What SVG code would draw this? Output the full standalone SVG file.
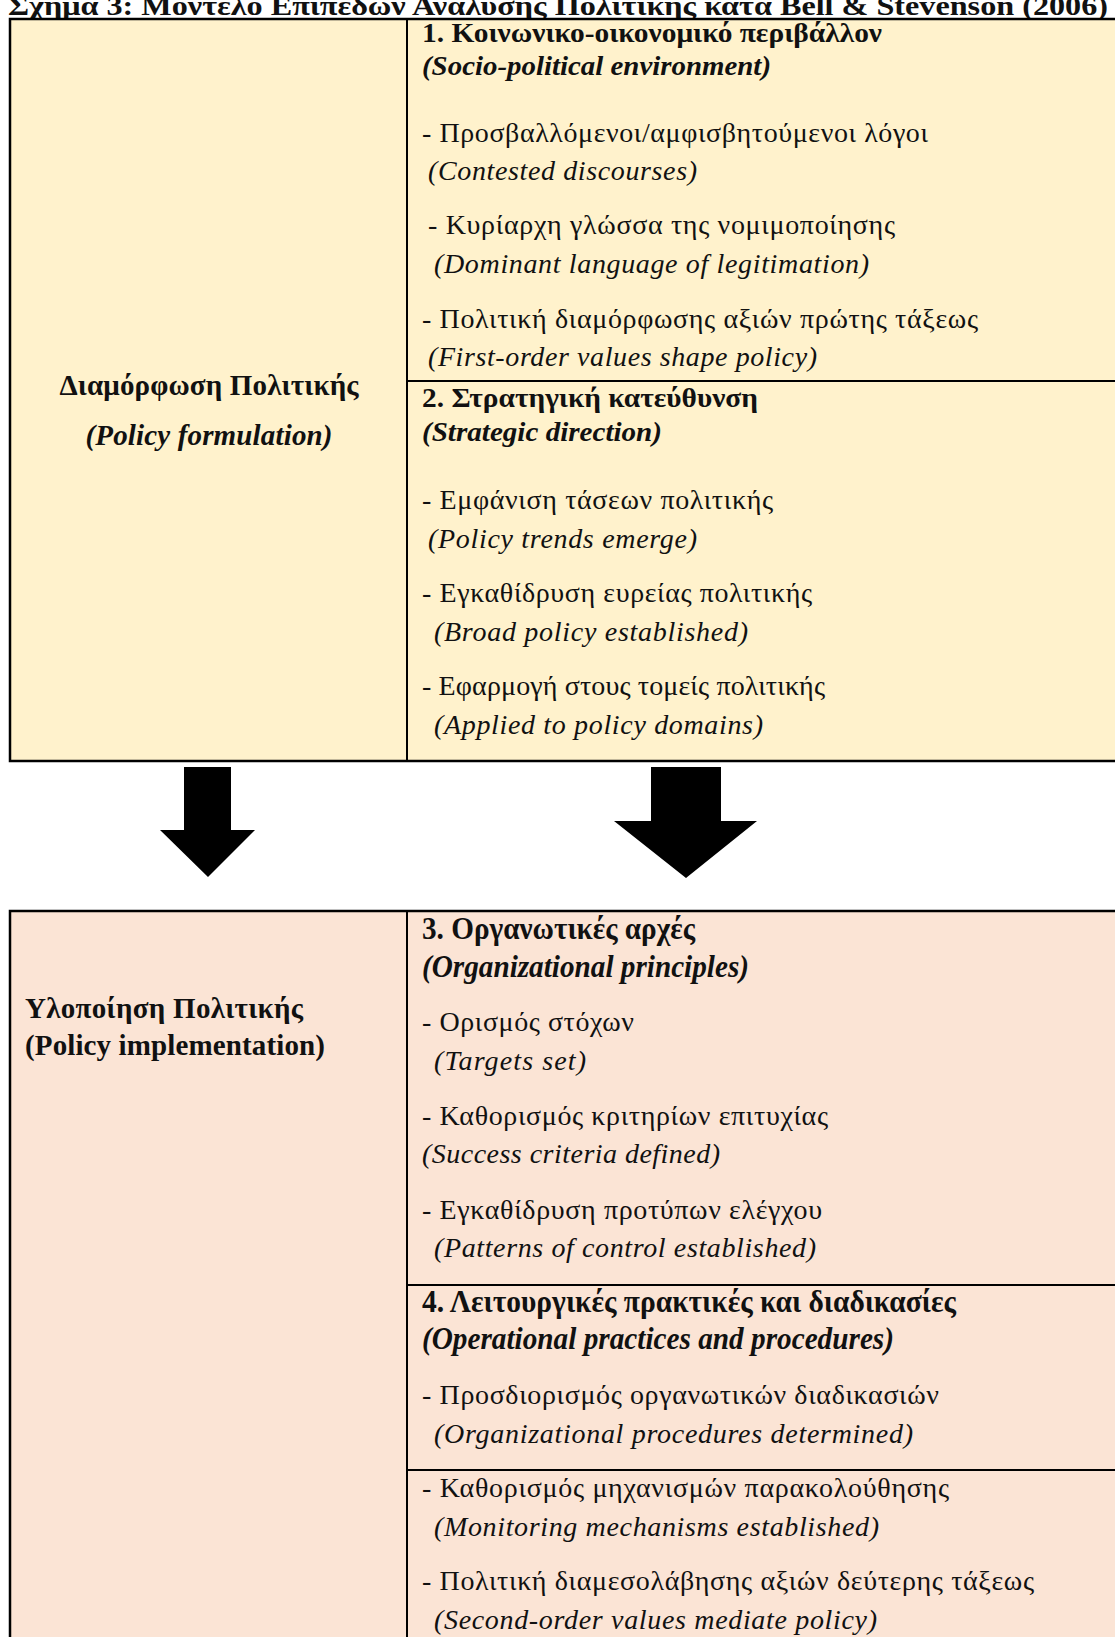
<svg xmlns="http://www.w3.org/2000/svg" width="1115" height="1637" viewBox="0 0 1115 1637">
  <style>
    text { font-family: "Liberation Serif", "Times New Roman", serif; fill: #111; }
    .b { font-size: 28px; }
    .i { font-size: 28px; font-style: italic; }
    .h { font-size: 28px; font-weight: bold; }
    .hi { font-size: 28px; font-weight: bold; font-style: italic; }
    .h2 { font-size: 31px; font-weight: bold; }
    .h2i { font-size: 31px; font-weight: bold; font-style: italic; }
    .lab { font-size: 29px; font-weight: bold; }
    .labi { font-size: 29px; font-weight: bold; font-style: italic; }
    .title { font-size: 28px; font-weight: bold; }
    .frame { stroke: #000; stroke-width: 2.5; }
    .sep { stroke: #000; stroke-width: 2; fill: none; }
    .arrow { fill: #000; }
  </style>

  <!-- caption, clipped at the top edge -->
  <text class="title" x="8" y="15" textLength="1100" lengthAdjust="spacingAndGlyphs">Σχήμα 3: Μοντέλο Επιπέδων Ανάλυσης Πολιτικής κατά Bell &amp; Stevenson (2006)</text>

  <!-- upper table: policy formulation -->
  <g id="formulation">
    <rect class="frame" x="10" y="19" width="1115" height="742" fill="#FFF2CC"/>
    <line class="sep" x1="407" y1="19" x2="407" y2="761"/>
    <line class="sep" x1="407" y1="381" x2="1115" y2="381"/>
    <text class="lab" x="209" y="395" text-anchor="middle" textLength="299" lengthAdjust="spacing">Διαμόρφωση Πολιτικής</text>
    <text class="labi" x="209" y="445" text-anchor="middle" textLength="247" lengthAdjust="spacing">(Policy formulation)</text>
  </g>

  <g id="level1">
    <text class="h" x="422" y="42" textLength="460" lengthAdjust="spacingAndGlyphs">1. Κοινωνικο-οικονομικό περιβάλλον</text>
    <text class="hi" x="422" y="75" textLength="349" lengthAdjust="spacingAndGlyphs">(Socio-political environment)</text>
    <text class="b" x="422" y="142" textLength="506" lengthAdjust="spacing">- Προσβαλλόμενοι/αμφισβητούμενοι λόγοι</text>
    <text class="i" x="428" y="180" textLength="269" lengthAdjust="spacing">(Contested discourses)</text>
    <text class="b" x="428" y="234" textLength="467" lengthAdjust="spacing">- Κυρίαρχη γλώσσα της νομιμοποίησης</text>
    <text class="i" x="434" y="273" textLength="435" lengthAdjust="spacing">(Dominant language of legitimation)</text>
    <text class="b" x="422" y="328" textLength="556" lengthAdjust="spacing">- Πολιτική διαμόρφωσης αξιών πρώτης τάξεως</text>
    <text class="i" x="428" y="366" textLength="389" lengthAdjust="spacing">(First-order values shape policy)</text>
  </g>

  <g id="level2">
    <text class="h" x="422" y="407" textLength="336" lengthAdjust="spacingAndGlyphs">2. Στρατηγική κατεύθυνση</text>
    <text class="hi" x="422" y="441" textLength="240" lengthAdjust="spacingAndGlyphs">(Strategic direction)</text>
    <text class="b" x="422" y="509" textLength="351" lengthAdjust="spacing">- Εμφάνιση τάσεων πολιτικής</text>
    <text class="i" x="428" y="548" textLength="269" lengthAdjust="spacing">(Policy trends emerge)</text>
    <text class="b" x="422" y="602" textLength="390" lengthAdjust="spacing">- Εγκαθίδρυση ευρείας πολιτικής</text>
    <text class="i" x="434" y="641" textLength="314" lengthAdjust="spacing">(Broad policy established)</text>
    <text class="b" x="422" y="695" textLength="403" lengthAdjust="spacing">- Εφαρμογή στους τομείς πολιτικής</text>
    <text class="i" x="434" y="734" textLength="329" lengthAdjust="spacing">(Applied to policy domains)</text>
  </g>

  <!-- block arrows between the two levels -->
  <g id="connectors">
    <polygon class="arrow" points="184,767 231,767 231,830 255,830 208,877 160,830 184,830"/>
    <polygon class="arrow" points="651,767 721,767 721,821 757,821 686,878 614,821 651,821"/>
  </g>

  <!-- lower table: policy implementation -->
  <g id="implementation">
    <rect class="frame" x="10" y="911" width="1115" height="760" fill="#FBE4D5"/>
    <line class="sep" x1="407" y1="911" x2="407" y2="1637"/>
    <line class="sep" x1="407" y1="1285" x2="1115" y2="1285"/>
    <line class="sep" x1="407" y1="1470" x2="1115" y2="1470"/>
    <text class="lab" x="25" y="1018" textLength="278" lengthAdjust="spacing">Υλοποίηση Πολιτικής</text>
    <text class="lab" x="25" y="1055" textLength="300" lengthAdjust="spacing">(Policy implementation)</text>
  </g>

  <g id="level3">
    <text class="h2" x="422" y="939" textLength="273" lengthAdjust="spacingAndGlyphs">3. Οργανωτικές αρχές</text>
    <text class="h2i" x="422" y="977" textLength="327" lengthAdjust="spacingAndGlyphs">(Organizational principles)</text>
    <text class="b" x="422" y="1031" textLength="212" lengthAdjust="spacing">- Ορισμός στόχων</text>
    <text class="i" x="434" y="1070" textLength="152" lengthAdjust="spacing">(Targets set)</text>
    <text class="b" x="422" y="1125" textLength="406" lengthAdjust="spacing">- Καθορισμός κριτηρίων επιτυχίας</text>
    <text class="i" x="422" y="1163" textLength="298" lengthAdjust="spacing">(Success criteria defined)</text>
    <text class="b" x="422" y="1219" textLength="400" lengthAdjust="spacing">- Εγκαθίδρυση προτύπων ελέγχου</text>
    <text class="i" x="434" y="1257" textLength="382" lengthAdjust="spacing">(Patterns of control established)</text>
  </g>

  <g id="level4">
    <text class="h2" x="422" y="1312" textLength="534" lengthAdjust="spacingAndGlyphs">4. Λειτουργικές πρακτικές και διαδικασίες</text>
    <text class="h2i" x="422" y="1349" textLength="472" lengthAdjust="spacingAndGlyphs">(Operational practices and procedures)</text>
    <text class="b" x="422" y="1404" textLength="517" lengthAdjust="spacing">- Προσδιορισμός οργανωτικών διαδικασιών</text>
    <text class="i" x="434" y="1443" textLength="479" lengthAdjust="spacing">(Organizational procedures determined)</text>
    <text class="b" x="422" y="1497" textLength="527" lengthAdjust="spacing">- Καθορισμός μηχανισμών παρακολούθησης</text>
    <text class="i" x="434" y="1536" textLength="445" lengthAdjust="spacing">(Monitoring mechanisms established)</text>
    <text class="b" x="422" y="1590" textLength="612" lengthAdjust="spacing">- Πολιτική διαμεσολάβησης αξιών δεύτερης τάξεως</text>
    <text class="i" x="434" y="1629" textLength="443" lengthAdjust="spacing">(Second-order values mediate policy)</text>
  </g>
</svg>
